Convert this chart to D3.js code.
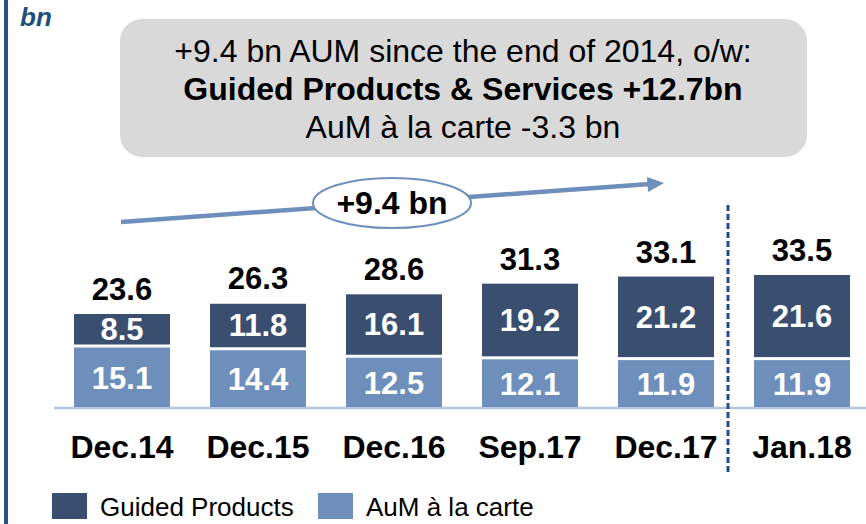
<!DOCTYPE html>
<html>
<head>
    <meta charset="utf-8">
    <title>AuM bars</title>
    <script src="https://d3js.org/d3.v7.min.js"></script>
    <style>
        body { margin: 0; background: #fff; }
        text { font-family: "Liberation Sans", Arial, sans-serif; }
    </style>
</head>
<body>
<script>
    // data
    var categories = ["Dec.14", "Dec.15", "Dec.16", "Sep.17", "Dec.17", "Jan.18"];
    var guided = [8.5, 11.8, 16.1, 19.2, 21.2, 21.6];
    var carte = [15.1, 14.4, 12.5, 12.1, 11.9, 11.9];
    var totals = [23.6, 26.3, 28.6, 31.3, 33.1, 33.5];
    var seriesNames = ["Guided Products", "AuM à la carte"];
    var calloutLines = ["+9.4 bn AUM since the end of 2014, o/w:", "Guided Products & Services +12.7bn", "AuM à la carte -3.3 bn"];

    var darkBlue = "#3a4f70", lightBlue = "#6e8ebb";

    var svg = d3.select("body").append("svg")
        .attr("width", 866)
        .attr("height", 524);

    var x = d3.scaleBand().domain(categories).range([54, 870]).paddingInner(0.294).paddingOuter(0.147);
    var y = d3.scaleLinear().domain([0, 33.5]).range([407, 275]);

    // left border + unit
    svg.append("rect").attr("x", 4).attr("y", 0).attr("width", 4).attr("height", 524).attr("fill", "#2b5088");
    svg.append("text").attr("x", 20).attr("y", 26)
        .style("font-size", "26px").style("font-weight", "bold").style("font-style", "italic")
        .attr("fill", "#1f4e79").text("bn");

    // callout box
    svg.append("rect").attr("x", 120).attr("y", 19).attr("width", 687).attr("height", 138)
        .attr("rx", 22).attr("fill", "#d9d9d9");
    svg.selectAll(".callout").data(calloutLines).enter().append("text")
        .attr("x", 463).attr("y", (d, i) => [62, 100, 138][i])
        .attr("text-anchor", "middle")
        .style("font-size", "32px")
        .style("font-weight", (d, i) => i == 1 ? "bold" : "normal")
        .attr("fill", "#000").text(d => d);

    // growth arrow
    svg.append("line").attr("x1", 121).attr("y1", 222).attr("x2", 650).attr("y2", 184)
        .attr("stroke", lightBlue).attr("stroke-width", 4.5);
    svg.append("path").attr("d", "M647,177 L664,183 L648,192 Z").attr("fill", lightBlue);
    svg.append("ellipse").attr("cx", 392).attr("cy", 203).attr("rx", 79).attr("ry", 25)
        .attr("fill", "#fff").attr("stroke", lightBlue).attr("stroke-width", 2);
    svg.append("text").attr("x", 392).attr("y", 214).attr("text-anchor", "middle")
        .style("font-size", "32px").style("font-weight", "bold").text("+9.4 bn");

    // baseline
    svg.append("line").attr("x1", 54).attr("x2", 866).attr("y1", 408).attr("y2", 408)
        .attr("stroke", "#b4c6e0").attr("stroke-width", 2.5);

    // dashed separator
    svg.append("line").attr("x1", 728).attr("x2", 728).attr("y1", 205).attr("y2", 472)
        .attr("stroke", "#1f4e8c").attr("stroke-width", 3).attr("stroke-dasharray", "6,3");

    var bars = svg.append("g").selectAll("g")
        .data(categories)
        .enter().append("g");

    bars.append("rect")
        .attr("x", d => x(d))
        .attr("width", x.bandwidth())
        .attr("y", (d, i) => y(carte[i]))
        .attr("height", (d, i) => y(0) - y(carte[i]))
        .attr("fill", lightBlue);

    bars.append("rect")
        .attr("x", d => x(d))
        .attr("width", x.bandwidth())
        .attr("y", (d, i) => y(carte[i] + guided[i]))
        .attr("height", (d, i) => y(carte[i]) - y(carte[i] + guided[i]) - 3)
        .attr("fill", darkBlue);

    bars.append("text")
        .attr("x", d => x(d) + x.bandwidth() / 2)
        .attr("y", (d, i) => (y(0) + y(carte[i])) / 2 + 1)
        .attr("dy", "0.35em").attr("text-anchor", "middle")
        .style("font-size", "31px").style("font-weight", "bold").attr("fill", "#fff")
        .text((d, i) => carte[i].toFixed(1));

    bars.append("text")
        .attr("x", d => x(d) + x.bandwidth() / 2)
        .attr("y", (d, i) => (y(carte[i]) - 3 + y(carte[i] + guided[i])) / 2)
        .attr("dy", "0.35em").attr("text-anchor", "middle")
        .style("font-size", "31px").style("font-weight", "bold").attr("fill", "#fff")
        .text((d, i) => guided[i].toFixed(1));

    bars.append("text")
        .attr("x", d => x(d) + x.bandwidth() / 2)
        .attr("y", (d, i) => y(totals[i]) - 14)
        .attr("text-anchor", "middle")
        .style("font-size", "31px").style("font-weight", "bold").attr("fill", "#000")
        .text((d, i) => totals[i].toFixed(1));

    // category labels
    bars.append("text")
        .attr("x", d => x(d) + x.bandwidth() / 2)
        .attr("y", 458)
        .attr("text-anchor", "middle")
        .style("font-size", "32px").style("font-weight", "bold").attr("fill", "#000")
        .text(d => d);

    // legend
    var legend = svg.append("g").selectAll("g")
        .data(seriesNames)
        .enter().append("g")
        .attr("transform", (d, i) => "translate(" + [52, 318][i] + ",493)");
    legend.append("rect").attr("width", 35).attr("height", 26)
        .attr("fill", (d, i) => i == 0 ? darkBlue : lightBlue);
    legend.append("text").attr("x", 48).attr("y", 23)
        .style("font-size", "26px").attr("fill", "#000").text(d => d);
</script>
</body>
</html>
